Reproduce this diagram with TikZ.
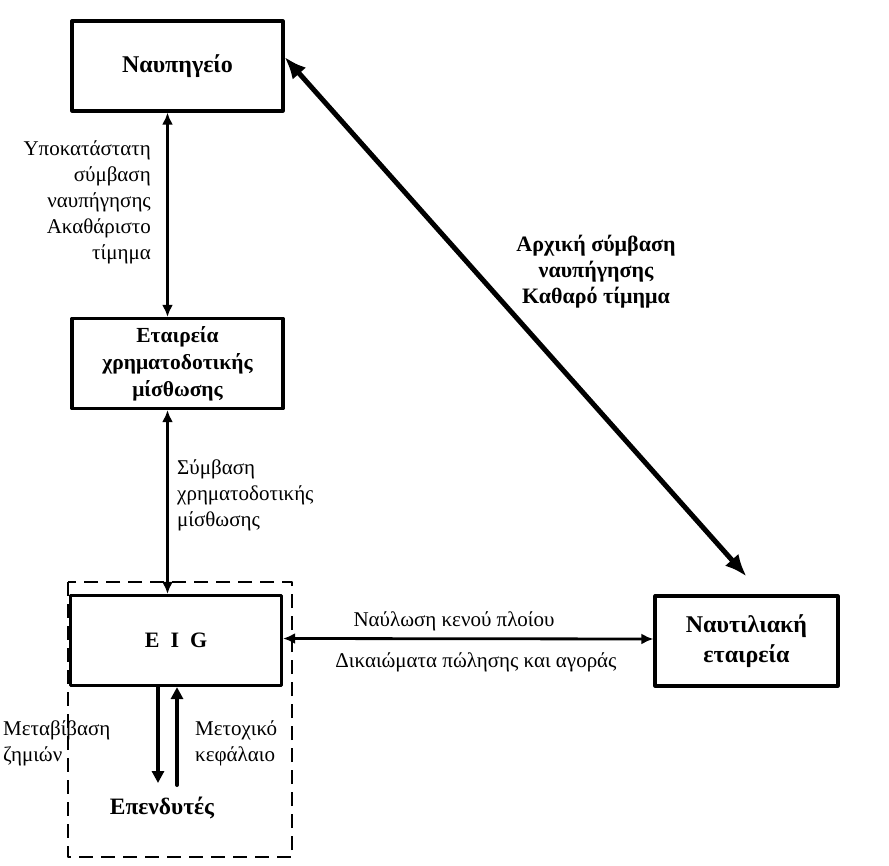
\documentclass[tikz,border=0pt]{standalone}
\usepackage{fontspec}
\setmainfont{Liberation Serif}
\usetikzlibrary{arrows.meta}

\tikzset{
  box/.style={draw,line width=3.2pt,minimum width=211pt,minimum height=90pt,
    align=center,inner sep=0pt,font=\fontsize{24}{30}\selectfont\bfseries},
  lbl/.style={font=\fontsize{21}{26}\selectfont,inner sep=0pt},
  link/.style={line width=2.8pt,{Latex[length=12pt,width=11pt]}-{Latex[length=12pt,width=11pt]}},
  flow/.style={line width=4pt,-{Triangle[length=12pt,width=12pt]}},
}

\begin{document}
\begin{tikzpicture}[x=1pt,y=-1pt,line cap=round,line join=round]
  \useasboundingbox (0,0) rectangle (889,866);
  % boxes
  \node[box] (yard) at (177.5,66) {Ναυπηγείο};
  \node[box,font=\fontsize{21.5}{27}\selectfont\bfseries] (lease) at (177.5,363.5) {Εταιρεία\\χρηματοδοτικής\\μίσθωσης};
  \node[box,font=\fontsize{22}{27}\selectfont\bfseries] (eig) at (176,640.5) {E\ \ I\ \ G};
  \node[box,minimum width=183pt] (ship) at (746.5,641) {\raisebox{-3pt}{Ναυτιλιακή}\\\raisebox{-3pt}{εταιρεία}};
  \node[font=\fontsize{23.5}{27}\selectfont\bfseries,inner sep=0pt] (inv) at (162,808) {Επενδυτές};
  \draw[line width=2.6pt,dash pattern=on 14pt off 8pt,line cap=butt] (68,582) rectangle (292,857);
  % connectors
  \draw[link] ([xshift=-10pt]yard.south) -- ([xshift=-10pt]lease.north);
  \draw[link] ([xshift=-10pt]lease.south) -- ([xshift=-8.5pt]eig.north);
  \draw[link] ([yshift=2pt]eig.east) -- ([yshift=2pt]ship.west);
  \draw[line width=5pt,{Latex[length=22pt,width=18pt]}-{Latex[length=22pt,width=18pt]}]
    ([yshift=9pt]yard.east) -- ([yshift=18pt]ship.north);
  \coordinate (down) at (158,783);
  \coordinate (up) at (177,785);
  \draw[flow] ([xshift=-18pt]eig.south) -- (down);
  \draw[flow] (up) -- ([xshift=1pt]eig.south);
  % labels
  \node[lbl,align=right,anchor=north east] at (151,140) {Υποκατάστατη\\σύμβαση\\ναυπήγησης\\Ακαθάριστο\\τίμημα};
  \node[lbl,align=left,anchor=north west] at (177,459) {Σύμβαση\\χρηματοδοτικής\\μίσθωσης};
  \node[lbl,align=left,anchor=north west] at (3,720) {Μεταβίβαση\\ζημιών};
  \node[lbl,align=left,anchor=north west] at (195,720) {Μετοχικό\\κεφάλαιο};
  \node[lbl] at (454,621) {Ναύλωση\ κενού\ πλοίου};
  \node[lbl] at (476,662) {Δικαιώματα\ πώλησης\ και\ αγοράς};
  \node[lbl,font=\fontsize{22}{26}\selectfont\bfseries,align=center] at (596,272) {Αρχική σύμβαση\\ναυπήγησης\\Καθαρό τίμημα};
\end{tikzpicture}
\end{document}
